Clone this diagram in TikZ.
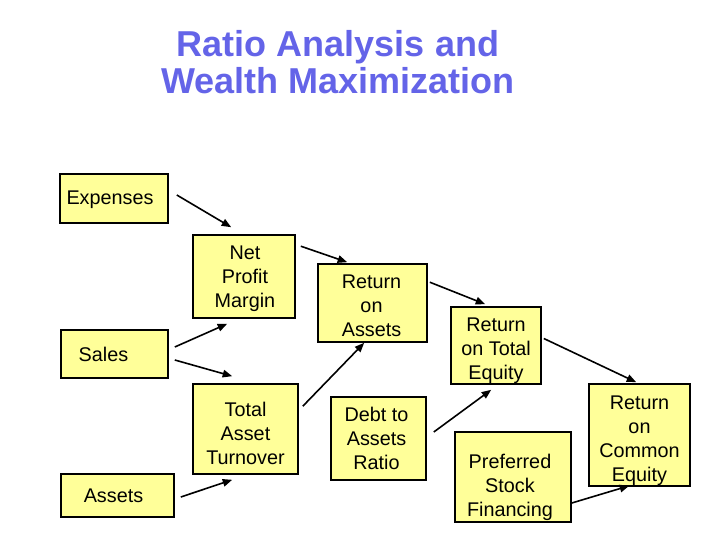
\documentclass[tikz,border=0pt]{standalone}
\usepackage{fontspec}
\setmainfont{Liberation Sans}
\usetikzlibrary{arrows.meta}
\definecolor{titleblue}{RGB}{100,100,232}
\definecolor{boxyellow}{RGB}{255,255,153}
\tikzset{
  box/.style={draw=black, line width=1.6pt, fill=boxyellow, inner sep=0pt},
  txt/.style={inner sep=0pt, align=center, font=\fontsize{19.8}{24}\selectfont},
  conn/.style={line width=1.6pt, -{Triangle[length=9.5pt,width=7.5pt]}},
}
\begin{document}
\begin{tikzpicture}[x=1pt,y=-1pt]
\useasboundingbox (0,0) rectangle (720,540);
\node[font=\fontsize{36}{37}\selectfont\bfseries, text=titleblue, align=center, inner sep=0pt]
  (title) at (338,62) {Ratio Analysis and\\Wealth Maximization};

\node[box, minimum width=108pt, minimum height=49pt,
  label={[txt, shift={(-4,1)}]center:{Expenses}}] (exp) at (114,198.5) {};
\node[box, minimum width=102pt, minimum height=83pt,
  label={[txt, shift={(1,2)}]center:{Net\\Profit\\Margin}}] (npm) at (244,276.5) {};
\node[box, minimum width=107pt, minimum height=48pt,
  label={[txt, shift={(-11,0)}]center:{Sales}}] (sales) at (114.5,354) {};
\node[box, minimum width=105pt, minimum height=90pt,
  label={[txt, shift={(0,4)}]center:{Total\\Asset\\Turnover}}] (tat) at (245.5,429) {};
\node[box, minimum width=113pt, minimum height=43pt,
  label={[txt, shift={(-4,0)}]center:{Assets}}] (assets) at (117.5,495.5) {};
\node[box, minimum width=109pt, minimum height=78pt,
  label={[txt, shift={(-1,3)}]center:{Return\\on\\Assets}}] (roa) at (372.5,303) {};
\node[box, minimum width=90pt, minimum height=77pt,
  label={[txt, shift={(0,5)}]center:{Return\\on Total\\Equity}}] (rte) at (496,345.5) {};
\node[box, minimum width=95pt, minimum height=83pt,
  label={[txt, shift={(-2,0)}]center:{Debt to\\Assets\\Ratio}}] (debt) at (378.5,438.5) {};
\node[box, minimum width=116pt, minimum height=90pt,
  label={[txt, shift={(-3,10)}]center:{Preferred\\Stock\\Financing}}] (pref) at (513,477) {};
\node[box, minimum width=101pt, minimum height=102pt,
  label={[txt, shift={(0,6)}]center:{Return\\on\\Common\\Equity}}] (rce) at (639.5,435) {};

\draw[conn] ([shift={(8,-3.5)}]exp.east) -- ([shift={(39,-7)}]npm.north west);
\draw[conn] ([shift={(6,-7)}]sales.east) -- ([shift={(35,5)}]npm.south west);
\draw[conn] ([shift={(6,6)}]sales.east) -- ([shift={(40,-7)}]tat.north west);
\draw[conn] ([shift={(6,1.5)}]assets.east) -- ([shift={(40,5)}]tat.south west);
\draw[conn] ([shift={(5,12)}]npm.north east) -- ([shift={(30,-1)}]roa.north west);
\draw[conn] ([shift={(4,23)}]tat.north east) -- ([shift={(47,0)}]roa.south west);
\draw[conn] ([shift={(2,19)}]roa.north east) -- ([shift={(35,-2)}]rte.north west);
\draw[conn] ([shift={(7,-6.5)}]debt.east) -- ([shift={(41,5)}]rte.south west);
\draw[conn] ([shift={(2,-7)}]rte.east) -- ([shift={(48,-1)}]rce.north west);
\draw[conn] ([shift={(0,26)}]pref.east) -- ([shift={(41,-1)}]rce.south west);
\end{tikzpicture}
\end{document}
